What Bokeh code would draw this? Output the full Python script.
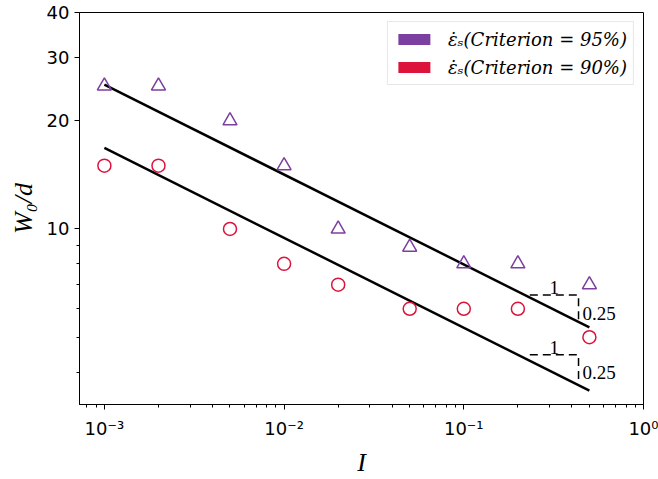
from bokeh.plotting import figure
from bokeh.models import (FixedTicker, Legend, LegendItem, ColumnDataSource)
from bokeh.core.properties import value
from bokeh.embed import file_html
from bokeh.resources import INLINE
import numpy as np

# ---- data ----
I_vals = [0.001, 0.002, 0.005, 0.01, 0.02, 0.05, 0.1, 0.2, 0.5]
w95 = [25, 25, 20, 15, 10, 8.9, 8, 8, 7]
w90 = [15, 15, 10, 8, 7, 6, 6, 6, 5.0]
fit_x = [0.001, 0.5]
fit95_coef = 25.2
fit90_coef = 16.8
fit_slope = -0.25
label95 = "\u03b5\u0307\u209b(Criterion = 95%)"
label90 = "\u03b5\u0307\u209b(Criterion = 90%)"
x_ticks = [0.001, 0.01, 0.1, 1.0]
x_tick_labels = ["10\u207b\u00b3", "10\u207b\u00b2", "10\u207b\u00b9", "10\u2070"]
y_ticks = [10, 20, 30, 40]
y_minor = [4, 5, 6, 7, 8, 9]
# slope-triangle annotations (x start, x corner, y horizontal, y vertical end)
tri_x0 = [0.233, 0.233]
tri_x1 = [0.435, 0.435]
tri_yh = [6.55, 4.47]
tri_yv = [5.53, 3.78]

purple = "#7B3FA0"
red = "#DC143C"

p = figure(width=658, height=479, x_axis_type="log", y_axis_type="log",
           x_range=(7.27e-4, 1.0), y_range=(3.25, 40.0),
           output_backend="svg", toolbar_location=None,
           min_border_left=79, min_border_right=15, min_border_top=12,
           min_border_bottom=66)
p.xgrid.visible = False
p.ygrid.visible = False
p.outline_line_color = "black"
p.outline_line_width = 1
p.outline_line_alpha = 1
p.background_fill_color = "white"
p.border_fill_color = "white"

minor_x = []
for d in [1e-4, 1e-3, 1e-2, 1e-1]:
    for k in range(2, 10):
        minor_x.append(k * d)
p.xaxis.ticker = FixedTicker(ticks=x_ticks, minor_ticks=minor_x)
p.xaxis.major_label_overrides = {t: l for t, l in zip(x_ticks, x_tick_labels)}
p.yaxis.ticker = FixedTicker(ticks=y_ticks, minor_ticks=y_minor)
p.yaxis.major_label_overrides = {t: str(t) for t in y_ticks}

for ax in (p.xaxis, p.yaxis):
    ax.axis_line_color = "black"
    ax.major_tick_line_color = "black"
    ax.minor_tick_line_color = "black"
    ax.major_tick_in = 0
    ax.major_tick_out = 5
    ax.minor_tick_in = 0
    ax.minor_tick_out = 3
    ax.major_label_text_font = "DejaVu Sans"
    ax.major_label_text_font_size = "18px"
    ax.major_label_text_color = "black"
    ax.axis_label_text_font = "Liberation Serif"
    ax.axis_label_text_font_style = "italic"
    ax.axis_label_text_font_size = "26px"
    ax.axis_label_text_color = "black"

p.xaxis.axis_label = "I"
p.yaxis.axis_label = "W\u2080/d"
p.xaxis.major_label_standoff = 8
p.yaxis.major_label_standoff = 5
p.xaxis.axis_label_standoff = 6
p.yaxis.axis_label_standoff = 6

# fit lines
xf = np.array(fit_x)
p.line(xf, fit95_coef * (xf / fit_x[0]) ** fit_slope, line_color="black", line_width=2.5)
p.line(xf, fit90_coef * (xf / fit_x[0]) ** fit_slope, line_color="black", line_width=2.5)

# markers
p.scatter(I_vals, w95, marker="triangle", size=14, fill_color=None,
          line_color=purple, line_width=1.5)
p.scatter(I_vals, w90, marker="circle", size=13, fill_color=None,
          line_color=red, line_width=1.5)

# slope triangles
for x0, x1, yh, yv in zip(tri_x0, tri_x1, tri_yh, tri_yv):
    p.line([x0, x1, x1], [yh, yh, yv], line_color="black", line_width=1.5,
           line_dash="8 5")
src = ColumnDataSource(dict(x=[np.sqrt(a * b) for a, b in zip(tri_x0, tri_x1)],
                            y=tri_yh, t=["1", "1"]))
p.text(x="x", y="y", text="t", source=src, text_font=value("Liberation Serif"),
       text_font_size="19px", text_align="center", text_baseline="bottom",
       y_offset=-1, text_color="black")
src2 = ColumnDataSource(dict(x=tri_x1, y=[np.sqrt(a * b) for a, b in zip(tri_yh, tri_yv)],
                             t=["0.25", "0.25"]))
p.text(x="x", y="y", text="t", source=src2, text_font=value("Liberation Serif"),
       text_font_size="19px", text_align="left", text_baseline="middle",
       x_offset=4, y_offset=5, text_color="black")

# legend with patch glyphs (off-data renderers used only for legend swatches)
nan = [np.nan]
r95 = p.quad(left=nan, right=nan, top=nan, bottom=nan, fill_color=purple,
             line_color=None)
r90 = p.quad(left=nan, right=nan, top=nan, bottom=nan, fill_color=red,
             line_color=None)
legend = Legend(items=[LegendItem(label=label95, renderers=[r95]),
                       LegendItem(label=label90, renderers=[r90])],
                location="top_right", margin=9, padding=6, spacing=6,
                glyph_width=40, glyph_height=14, label_standoff=14,
                label_text_font="DejaVu Serif", label_text_font_style="italic",
                label_text_font_size="18px", label_height=22,
                label_text_color="black",
                border_line_color="#d0d0d0", border_line_width=1,
                background_fill_alpha=1)
p.add_layout(legend, "center")

open("out.html", "w").write(file_html(p, INLINE))
